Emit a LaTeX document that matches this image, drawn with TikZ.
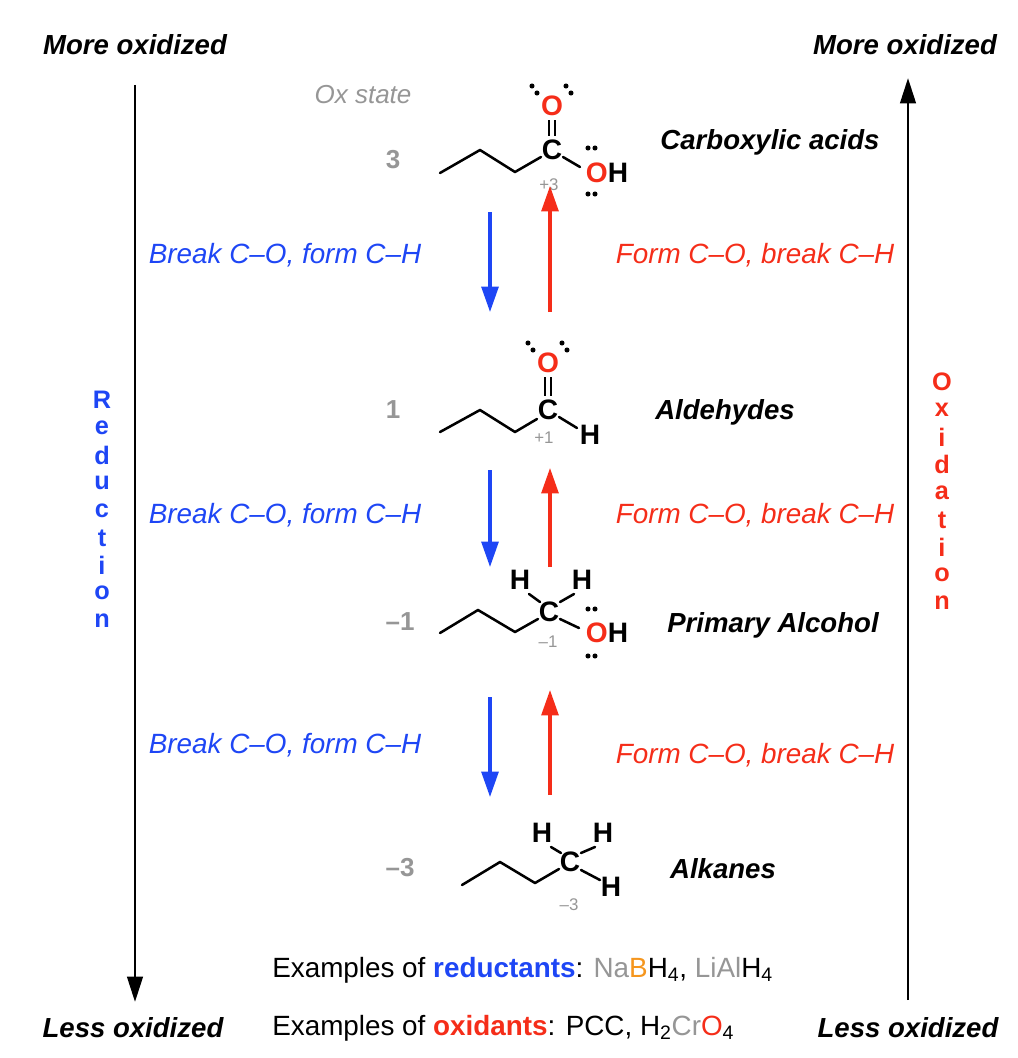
\documentclass[tikz,border=0pt]{standalone}
\usepackage{fontspec}
\setmainfont{Liberation Sans}
\usetikzlibrary{arrows.meta}
\definecolor{cblue}{RGB}{30,70,245}
\definecolor{cred}{RGB}{245,45,25}
\definecolor{cgray}{RGB}{150,150,150}
\definecolor{corange}{RGB}{245,150,30}
\newcommand{\sbs}[1]{\textsubscript{#1}}
\tikzset{
  big/.style={font=\fontsize{19.6}{22}\selectfont\bfseries\itshape},
  lab/.style={font=\fontsize{19.8}{22}\selectfont\itshape},
  atom/.style={font=\fontsize{20}{20}\selectfont\bfseries, inner sep=0pt},
  ox/.style={font=\fontsize{12}{12}\selectfont, text=cgray, inner sep=0pt},
  num/.style={font=\fontsize{18.5}{20}\selectfont\bfseries, text=cgray},
  bond/.style={line width=1.8pt, line join=round, line cap=round},
  main/.style={line width=2pt, -{Triangle[length=18pt,width=11pt]}},
  rar/.style={line width=2.2pt, -{Triangle[length=18pt,width=12pt]}},
  lp/.style={fill, circle, inner sep=0pt, minimum size=3.6pt},
  letter/.style={font=\fontsize{18}{18}\selectfont\bfseries, inner sep=0pt}
}
\begin{document}
\begin{tikzpicture}[x=0.025cm,y=-0.025cm]
\useasboundingbox (0,0) rectangle (1018,1058);
\node[big] (mol) at (135,45) {More oxidized};
\node[big] (mor) at (905,45) {More oxidized};
\node[big] (lol) at (133,1028) {Less oxidized};
\node[big] (lor) at (908,1028) {Less oxidized};
\coordinate (la1) at (135,85); \coordinate (la2) at (135,1002);
\coordinate (ra1) at (908,1000); \coordinate (ra2) at (908,78);
\draw[main] (la1) -- (la2);
\draw[main] (ra1) -- (ra2);
\foreach \c [count=\i from 0] in {R,e,d,u,c,t,i,o,n}
  \node[letter,text=cblue] (r\i) at (102,400+\i*27.6) {\c};
\foreach \c [count=\i from 0] in {O,x,i,d,a,t,i,o,n}
  \node[letter,text=cred] (o\i) at (942,382+\i*27.6) {\c};
\node[text=cgray,font=\fontsize{18.5}{20}\selectfont\itshape] (oxs) at (363,95) {Ox state};
\node[num] (n3) at (393,160) {3};
\node[num] (n1) at (393,410) {1};
\node[num] (nm1) at (400,622) {--1};
\node[num] (nm3) at (400,868) {--3};
\node[big] (acid) at (770,142) {Carboxylic acids};
\node[big] (ald) at (725,412) {Aldehydes};
\node[big] (alc) at (773,625) {Primary Alcohol};
\node[big] (alk) at (723,869) {Alkanes};
% acid
\draw[bond] (440,173) -- (480,150) -- (515,172) -- (541,157);
\node[atom] (c1) at (552,150) {C};
\node[atom,text=cred] (o1) at (552,106) {O};
\node[atom] (oh1) at (607,173) {\textcolor{cred}{O}H};
\draw[line width=1.8pt] (549,120) -- (549,136) (555,120) -- (555,136);
\draw[bond] (563,157) -- (580,167);
\node[ox] at (549,185) {+3};
\foreach \p in {(532,86),(537,93),(566,86),(571,93),(588,148),(595,148),(588,194),(595,194)} \node[lp] at \p {};
% aldehyde
\draw[bond] (440,432) -- (480,410) -- (515,432) -- (537,419);
\node[atom] (c2) at (548,410) {C};
\node[atom,text=cred] (o2) at (548,363) {O};
\node[atom] (h2) at (590,435) {H};
\draw[line width=1.8pt] (545,377) -- (545,396) (551,377) -- (551,396);
\draw[bond] (559,417) -- (577,428);
\node[ox] at (544,438) {+1};
\foreach \p in {(528,343),(533,350),(562,343),(567,350)} \node[lp] at \p {};
% alcohol
\draw[bond] (440,633) -- (478,610) -- (515,632) -- (538,619);
\node[atom] (c3) at (549,612) {C};
\node[atom] (h3a) at (520,580) {H};
\node[atom] (h3b) at (582,580) {H};
\node[atom] (oh3) at (607,633) {\textcolor{cred}{O}H};
\draw[bond] (529,594) -- (540,602) (574,594) -- (560,602) (560,619) -- (579,628);
\node[ox] at (548,642) {--1};
\foreach \p in {(588,609),(595,609),(588,656),(595,656)} \node[lp] at \p {};
% alkane
\draw[bond] (462,885) -- (500,862) -- (535,883) -- (559,869);
\node[atom] (c4) at (570,862) {C};
\node[atom] (h4a) at (542,833) {H};
\node[atom] (h4b) at (603,833) {H};
\node[atom] (h4c) at (611,887) {H};
\draw[bond] (551,847) -- (561,853) (595,847) -- (581,853) (581,870) -- (600,880);
\node[ox] at (569,905) {--3};
% reaction arrows
\foreach \a/\b/\ya/\yb in {1/2/212/312,3/4/470/567,5/6/697/797} {
  \coordinate (b\a) at (490,\ya); \coordinate (b\b) at (490,\yb);
  \draw[rar,cblue] (b\a) -- (b\b);
}
\foreach \a/\b/\ya/\yb in {1/2/312/186,3/4/567/468,5/6/795/690} {
  \coordinate (q\a) at (550,\ya); \coordinate (q\b) at (550,\yb);
  \draw[rar,cred] (q\a) -- (q\b);
}
\foreach \y [count=\i] in {255,515,745} {
  \node[lab,text=cblue] (bl\i) at (285,\y) {Break C--O, form C--H};
}
\foreach \y [count=\i] in {255,515,755} {
  \node[lab,text=cred] (rl\i) at (755,\y) {Form C--O, break C--H};
}
\node[anchor=west,font=\fontsize{19.8}{20}\selectfont, inner sep=0pt] (ex1) at (272,970) {Examples of \textcolor{cblue}{\bfseries reductants}: \textcolor{cgray}{Na}\textcolor{corange}{B}H\sbs{4}, \textcolor{cgray}{LiAl}H\sbs{4}};
\node[anchor=west,font=\fontsize{19.8}{20}\selectfont, inner sep=0pt] (ex2) at (272,1028) {Examples of \textcolor{cred}{\bfseries oxidants}: PCC, H\sbs{2}\textcolor{cgray}{Cr}\textcolor{cred}{O}\sbs{4}};
\end{tikzpicture}
\end{document}
